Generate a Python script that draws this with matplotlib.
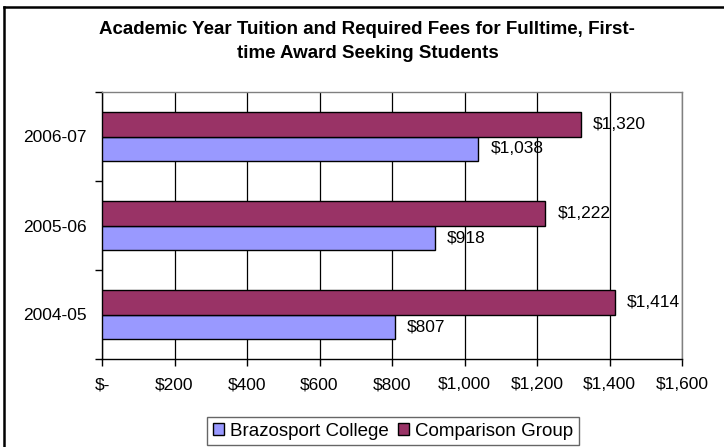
import matplotlib
matplotlib.use("Agg")
import matplotlib.pyplot as plt
from matplotlib.lines import Line2D
import numpy as np

plt.rcParams['font.family'] = ['Liberation Sans', 'DejaVu Sans']

# Datos del gráfico
years = ['2004-05', '2005-06', '2006-07']
brazosport = [807, 918, 1038]
comparison = [1414, 1222, 1320]
xticks = [0, 200, 400, 600, 800, 1000, 1200, 1400, 1600]
xtick_labels = ['$-', '$200', '$400', '$600', '$800', '$1,000', '$1,200', '$1,400', '$1,600']

fig = plt.figure(figsize=(7.24, 4.47), dpi=100, facecolor='white')
ax = fig.add_axes([102 / 724, 1 - 359 / 447, 580 / 724, 267 / 447])

y = np.arange(len(years))
h = 0.28
b1 = ax.barh(y - h / 2, brazosport, height=h, color='#9999FF', edgecolor='black',
             linewidth=1, label='Brazosport College', zorder=3)
b2 = ax.barh(y + h / 2, comparison, height=h, color='#993366', edgecolor='black',
             linewidth=1, label='Comparison Group', zorder=3)

# etiquetas de valores
for bars in (b1, b2):
    for bar in bars:
        w = bar.get_width()
        ax.annotate(f"${w:,.0f}", (w, bar.get_y() + bar.get_height() / 2),
                    xytext=(9, 0), textcoords='offset points',
                    ha='left', va='center', fontsize=12.5, color='black')

ax.set_xlim(0, 1600)
ax.set_ylim(-0.5, 2.5)
ax.set_xticks(xticks)
ax.set_xticklabels(xtick_labels, fontsize=12.5)
ax.set_yticks(y)
ax.set_yticklabels(years, fontsize=12.5)
ax.set_yticks([-0.5, 0.5, 1.5, 2.5], minor=True)
ax.tick_params(axis='y', which='major', length=0, pad=11)
ax.tick_params(axis='y', which='minor', length=5, direction='out', width=1)
ax.tick_params(axis='x', length=5, direction='out', width=1, pad=8)

ax.grid(axis='x', color='black', linewidth=0.9, zorder=0)
ax.set_axisbelow(True)
for side in ('left', 'bottom'):
    ax.spines[side].set_color('black')
    ax.spines[side].set_linewidth(1)
for side in ('top', 'right'):
    ax.spines[side].set_color('#808080')
    ax.spines[side].set_linewidth(1)

fig.text(367 / 724, 1 - 30 / 447, 'Academic Year Tuition and Required Fees for Fulltime, First-',
         ha='center', va='center', fontsize=13.5, fontweight='bold')
fig.text(368 / 724, 1 - 54 / 447, 'time Award Seeking Students',
         ha='center', va='center', fontsize=13.5, fontweight='bold')

leg = fig.legend(handles=[b1, b2], loc='center', bbox_to_anchor=(393 / 724, 1 - 431 / 447),
                 ncol=2, fontsize=13.5, frameon=True, fancybox=False, edgecolor='#404040',
                 handlelength=0.6, handleheight=0.6, handletextpad=0.3, columnspacing=0.5,
                 borderpad=0.3)
leg.get_frame().set_linewidth(1)

# borde del gráfico (solo arriba e izquierda visibles)
fig.add_artist(Line2D([3.5 / 724, 3.5 / 724], [0, 1 - 7 / 447], color='black', linewidth=1.8,
                      transform=fig.transFigure))
fig.add_artist(Line2D([3.5 / 724, 1], [1 - 7 / 447, 1 - 7 / 447], color='black', linewidth=1.8,
                      transform=fig.transFigure))

fig.savefig('out.png', dpi=100, facecolor='white')
